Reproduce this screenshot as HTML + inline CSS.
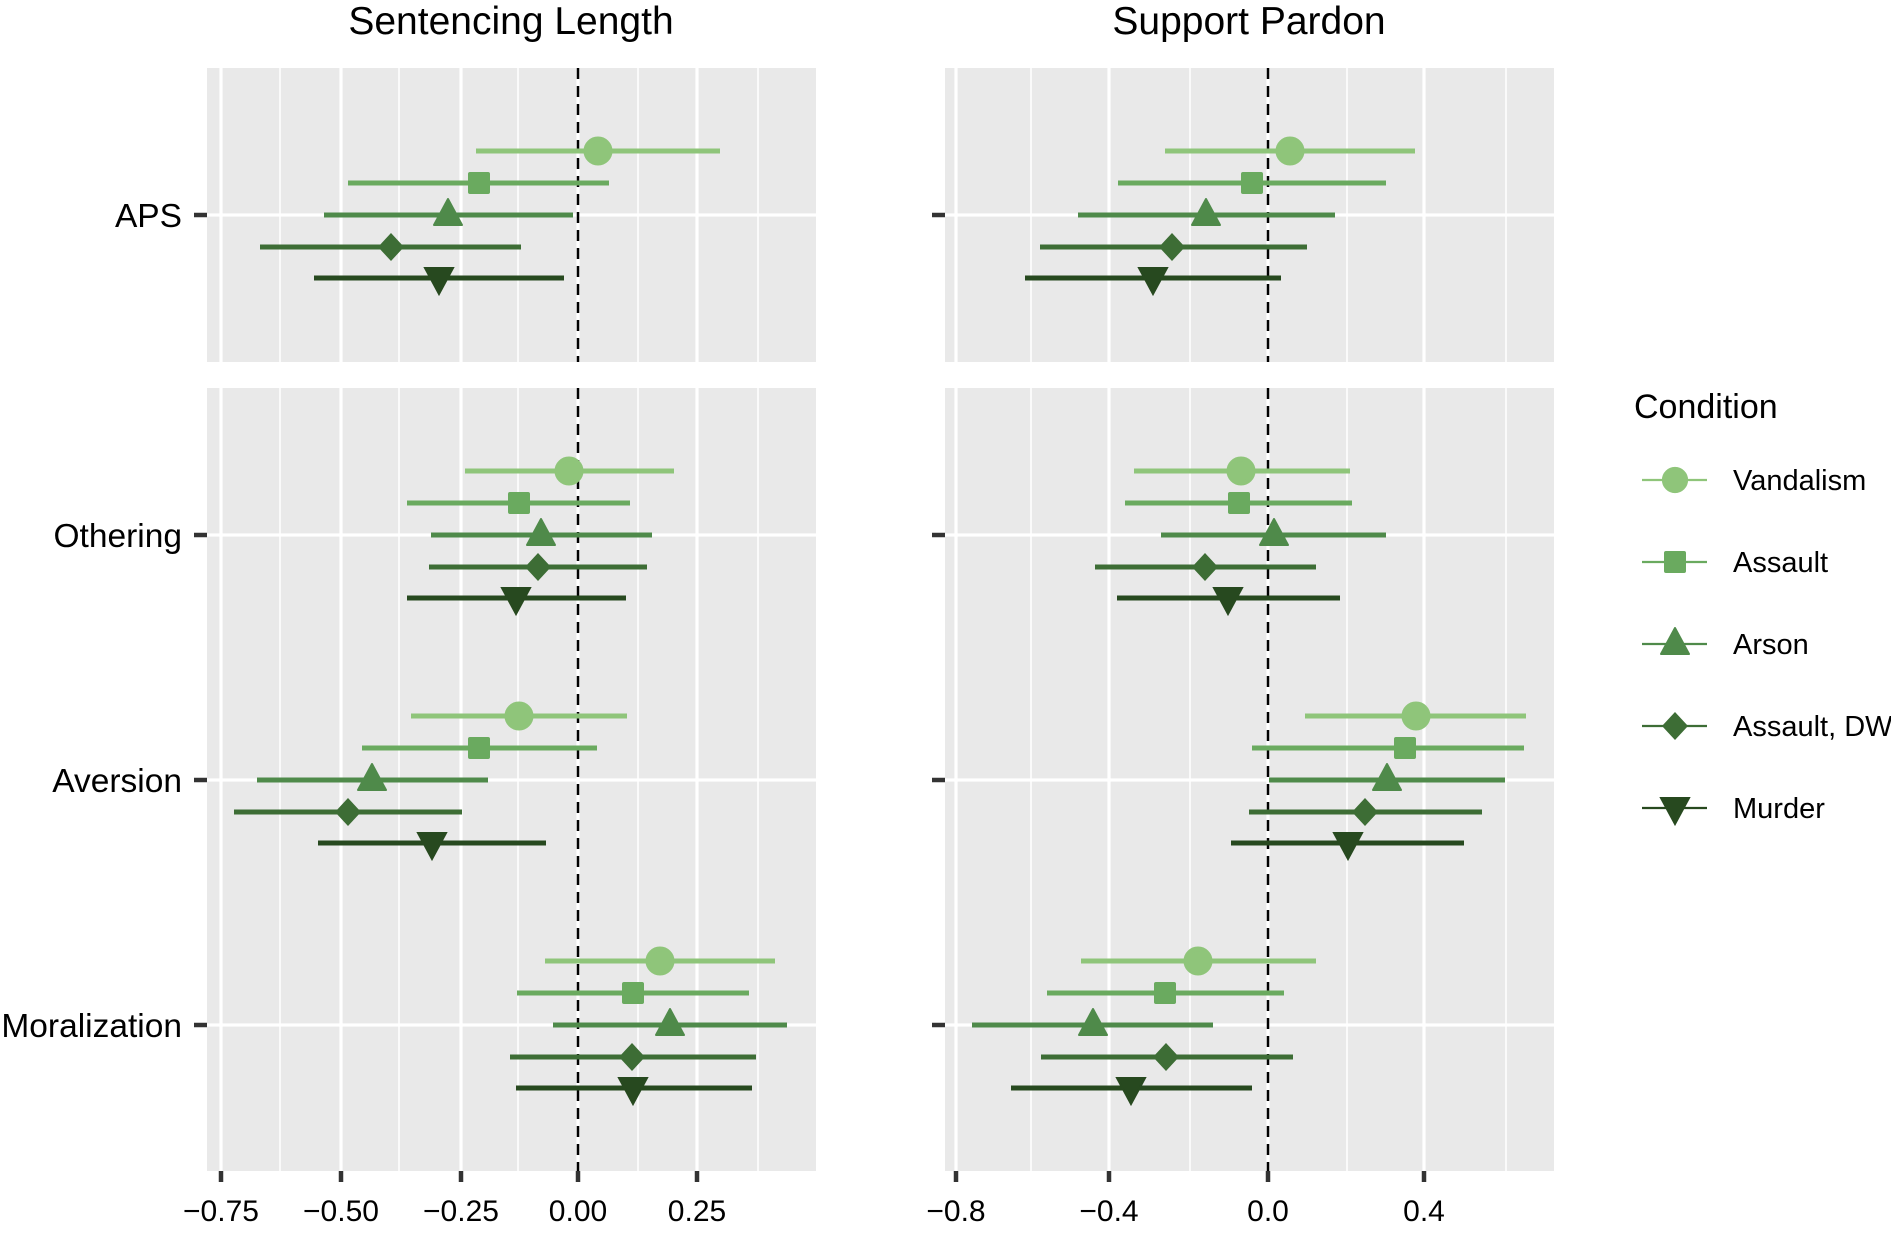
<!DOCTYPE html>
<html><head><meta charset="utf-8"><style>
html,body{margin:0;padding:0;background:#fff}
svg{display:block}
text{font-family:"Liberation Sans",Arial,sans-serif;fill:#000}
</style></head><body>
<svg width="1891" height="1236" viewBox="0 0 1891 1236" xmlns="http://www.w3.org/2000/svg">
<defs>
<circle id="mV" r="12"/>
<rect id="mA" x="-11" y="-11" width="22" height="22" rx="2"/>
<polygon id="mR" points="0,-16 14,10 -14,10" stroke-linejoin="round"/>
<polygon id="mD" points="0,-14 13,0 0,14 -13,0"/>
<polygon id="mM" points="-14,-10 14,-10 0,16"/>
</defs>
<text x="511" y="34" font-size="39" text-anchor="middle">Sentencing Length</text>
<text x="1249" y="34" font-size="39" text-anchor="middle">Support Pardon</text>

<g fill="#e9e9e9">
<rect x="207" y="68" width="609" height="294"/>
<rect x="207" y="388" width="609" height="783"/>
<rect x="945" y="68" width="609" height="294"/>
<rect x="945" y="388" width="609" height="783"/>
</g>
<g stroke="#fff">
<g stroke-width="1.6">
<line x1="280" y1="68" x2="280" y2="362"/><line x1="399" y1="68" x2="399" y2="362"/><line x1="518" y1="68" x2="518" y2="362"/><line x1="638" y1="68" x2="638" y2="362"/><line x1="758" y1="68" x2="758" y2="362"/>
<line x1="280" y1="388" x2="280" y2="1171"/><line x1="399" y1="388" x2="399" y2="1171"/><line x1="518" y1="388" x2="518" y2="1171"/><line x1="638" y1="388" x2="638" y2="1171"/><line x1="758" y1="388" x2="758" y2="1171"/>
<line x1="1031" y1="68" x2="1031" y2="362"/><line x1="1190" y1="68" x2="1190" y2="362"/><line x1="1347" y1="68" x2="1347" y2="362"/><line x1="1506" y1="68" x2="1506" y2="362"/>
<line x1="1031" y1="388" x2="1031" y2="1171"/><line x1="1190" y1="388" x2="1190" y2="1171"/><line x1="1347" y1="388" x2="1347" y2="1171"/><line x1="1506" y1="388" x2="1506" y2="1171"/>
</g>
<g stroke-width="3.2">
<line x1="221" y1="68" x2="221" y2="362"/><line x1="341" y1="68" x2="341" y2="362"/><line x1="461" y1="68" x2="461" y2="362"/><line x1="578" y1="68" x2="578" y2="362"/><line x1="697" y1="68" x2="697" y2="362"/>
<line x1="221" y1="388" x2="221" y2="1171"/><line x1="341" y1="388" x2="341" y2="1171"/><line x1="461" y1="388" x2="461" y2="1171"/><line x1="578" y1="388" x2="578" y2="1171"/><line x1="697" y1="388" x2="697" y2="1171"/>
<line x1="956" y1="68" x2="956" y2="362"/><line x1="1109" y1="68" x2="1109" y2="362"/><line x1="1268" y1="68" x2="1268" y2="362"/><line x1="1424" y1="68" x2="1424" y2="362"/>
<line x1="956" y1="388" x2="956" y2="1171"/><line x1="1109" y1="388" x2="1109" y2="1171"/><line x1="1268" y1="388" x2="1268" y2="1171"/><line x1="1424" y1="388" x2="1424" y2="1171"/>
<line x1="207" y1="215" x2="816" y2="215"/><line x1="207" y1="535" x2="816" y2="535"/><line x1="207" y1="780" x2="816" y2="780"/><line x1="207" y1="1025" x2="816" y2="1025"/>
<line x1="945" y1="215" x2="1554" y2="215"/><line x1="945" y1="535" x2="1554" y2="535"/><line x1="945" y1="780" x2="1554" y2="780"/><line x1="945" y1="1025" x2="1554" y2="1025"/>
</g>
</g>
<g stroke="#000" stroke-width="2.5" stroke-dasharray="11,7">
<line x1="578" y1="68" x2="578" y2="362"/><line x1="578" y1="388" x2="578" y2="1171"/>
<line x1="1268" y1="68" x2="1268" y2="362"/><line x1="1268" y1="388" x2="1268" y2="1171"/>
</g>

<g stroke-width="5">
<g stroke="#8fc57a" fill="#8fc57a"><line x1="476" y1="151" x2="720" y2="151"/><use href="#mV" x="598" y="151"/></g>
<g stroke="#6aaa5f" fill="#6aaa5f"><line x1="348" y1="183" x2="609" y2="183"/><use href="#mA" x="479" y="183" stroke="none"/></g>
<g stroke="#4f8a4a" fill="#4f8a4a"><line x1="324" y1="215" x2="573" y2="215"/><use href="#mR" x="448" y="215" stroke-width="2"/></g>
<g stroke="#3d6d35" fill="#3d6d35"><line x1="260" y1="247" x2="521" y2="247"/><use href="#mD" x="391" y="247" stroke="none"/></g>
<g stroke="#27491f" fill="#27491f"><line x1="314" y1="278" x2="564" y2="278"/><use href="#mM" x="439" y="278" stroke-width="2"/></g>
<g stroke="#8fc57a" fill="#8fc57a"><line x1="465" y1="471" x2="674" y2="471"/><use href="#mV" x="569" y="471"/></g>
<g stroke="#6aaa5f" fill="#6aaa5f"><line x1="407" y1="503" x2="630" y2="503"/><use href="#mA" x="519" y="503" stroke="none"/></g>
<g stroke="#4f8a4a" fill="#4f8a4a"><line x1="431" y1="535" x2="652" y2="535"/><use href="#mR" x="541" y="535" stroke-width="2"/></g>
<g stroke="#3d6d35" fill="#3d6d35"><line x1="429" y1="567" x2="647" y2="567"/><use href="#mD" x="538" y="567" stroke="none"/></g>
<g stroke="#27491f" fill="#27491f"><line x1="407" y1="598" x2="626" y2="598"/><use href="#mM" x="516" y="598" stroke-width="2"/></g>
<g stroke="#8fc57a" fill="#8fc57a"><line x1="411" y1="716" x2="627" y2="716"/><use href="#mV" x="519" y="716"/></g>
<g stroke="#6aaa5f" fill="#6aaa5f"><line x1="362" y1="748" x2="597" y2="748"/><use href="#mA" x="479" y="748" stroke="none"/></g>
<g stroke="#4f8a4a" fill="#4f8a4a"><line x1="257" y1="780" x2="488" y2="780"/><use href="#mR" x="372" y="780" stroke-width="2"/></g>
<g stroke="#3d6d35" fill="#3d6d35"><line x1="234" y1="812" x2="462" y2="812"/><use href="#mD" x="348" y="812" stroke="none"/></g>
<g stroke="#27491f" fill="#27491f"><line x1="318" y1="843" x2="546" y2="843"/><use href="#mM" x="432" y="843" stroke-width="2"/></g>
<g stroke="#8fc57a" fill="#8fc57a"><line x1="545" y1="961" x2="775" y2="961"/><use href="#mV" x="660" y="961"/></g>
<g stroke="#6aaa5f" fill="#6aaa5f"><line x1="517" y1="993" x2="749" y2="993"/><use href="#mA" x="633" y="993" stroke="none"/></g>
<g stroke="#4f8a4a" fill="#4f8a4a"><line x1="553" y1="1025" x2="787" y2="1025"/><use href="#mR" x="670" y="1025" stroke-width="2"/></g>
<g stroke="#3d6d35" fill="#3d6d35"><line x1="510" y1="1057" x2="756" y2="1057"/><use href="#mD" x="632" y="1057" stroke="none"/></g>
<g stroke="#27491f" fill="#27491f"><line x1="516" y1="1088" x2="752" y2="1088"/><use href="#mM" x="633" y="1088" stroke-width="2"/></g>

<g stroke="#8fc57a" fill="#8fc57a"><line x1="1165" y1="151" x2="1415" y2="151"/><use href="#mV" x="1290" y="151"/></g>
<g stroke="#6aaa5f" fill="#6aaa5f"><line x1="1118" y1="183" x2="1386" y2="183"/><use href="#mA" x="1252" y="183" stroke="none"/></g>
<g stroke="#4f8a4a" fill="#4f8a4a"><line x1="1078" y1="215" x2="1335" y2="215"/><use href="#mR" x="1206" y="215" stroke-width="2"/></g>
<g stroke="#3d6d35" fill="#3d6d35"><line x1="1040" y1="247" x2="1307" y2="247"/><use href="#mD" x="1172" y="247" stroke="none"/></g>
<g stroke="#27491f" fill="#27491f"><line x1="1025" y1="278" x2="1281" y2="278"/><use href="#mM" x="1153" y="278" stroke-width="2"/></g>
<g stroke="#8fc57a" fill="#8fc57a"><line x1="1134" y1="471" x2="1350" y2="471"/><use href="#mV" x="1241" y="471"/></g>
<g stroke="#6aaa5f" fill="#6aaa5f"><line x1="1125" y1="503" x2="1352" y2="503"/><use href="#mA" x="1239" y="503" stroke="none"/></g>
<g stroke="#4f8a4a" fill="#4f8a4a"><line x1="1161" y1="535" x2="1386" y2="535"/><use href="#mR" x="1274" y="535" stroke-width="2"/></g>
<g stroke="#3d6d35" fill="#3d6d35"><line x1="1095" y1="567" x2="1316" y2="567"/><use href="#mD" x="1205" y="567" stroke="none"/></g>
<g stroke="#27491f" fill="#27491f"><line x1="1117" y1="598" x2="1340" y2="598"/><use href="#mM" x="1228" y="598" stroke-width="2"/></g>
<g stroke="#8fc57a" fill="#8fc57a"><line x1="1305" y1="716" x2="1526" y2="716"/><use href="#mV" x="1416" y="716"/></g>
<g stroke="#6aaa5f" fill="#6aaa5f"><line x1="1252" y1="748" x2="1524" y2="748"/><use href="#mA" x="1405" y="748" stroke="none"/></g>
<g stroke="#4f8a4a" fill="#4f8a4a"><line x1="1269" y1="780" x2="1505" y2="780"/><use href="#mR" x="1387" y="780" stroke-width="2"/></g>
<g stroke="#3d6d35" fill="#3d6d35"><line x1="1249" y1="812" x2="1482" y2="812"/><use href="#mD" x="1365" y="812" stroke="none"/></g>
<g stroke="#27491f" fill="#27491f"><line x1="1231" y1="843" x2="1464" y2="843"/><use href="#mM" x="1348" y="843" stroke-width="2"/></g>
<g stroke="#8fc57a" fill="#8fc57a"><line x1="1081" y1="961" x2="1316" y2="961"/><use href="#mV" x="1198" y="961"/></g>
<g stroke="#6aaa5f" fill="#6aaa5f"><line x1="1047" y1="993" x2="1284" y2="993"/><use href="#mA" x="1165" y="993" stroke="none"/></g>
<g stroke="#4f8a4a" fill="#4f8a4a"><line x1="972" y1="1025" x2="1213" y2="1025"/><use href="#mR" x="1093" y="1025" stroke-width="2"/></g>
<g stroke="#3d6d35" fill="#3d6d35"><line x1="1041" y1="1057" x2="1293" y2="1057"/><use href="#mD" x="1166" y="1057" stroke="none"/></g>
<g stroke="#27491f" fill="#27491f"><line x1="1011" y1="1088" x2="1252" y2="1088"/><use href="#mM" x="1131" y="1088" stroke-width="2"/></g>
</g>

<g stroke="#333" stroke-width="4.5">
<line x1="194" y1="215" x2="207" y2="215"/><line x1="194" y1="535" x2="207" y2="535"/><line x1="194" y1="780" x2="207" y2="780"/><line x1="194" y1="1025" x2="207" y2="1025"/>
<line x1="932" y1="215" x2="945" y2="215"/><line x1="932" y1="535" x2="945" y2="535"/><line x1="932" y1="780" x2="945" y2="780"/><line x1="932" y1="1025" x2="945" y2="1025"/>
<line x1="221" y1="1171" x2="221" y2="1182"/><line x1="341" y1="1171" x2="341" y2="1182"/><line x1="461" y1="1171" x2="461" y2="1182"/><line x1="578" y1="1171" x2="578" y2="1182"/><line x1="697" y1="1171" x2="697" y2="1182"/>
<line x1="956" y1="1171" x2="956" y2="1182"/><line x1="1109" y1="1171" x2="1109" y2="1182"/><line x1="1268" y1="1171" x2="1268" y2="1182"/><line x1="1424" y1="1171" x2="1424" y2="1182"/>
</g>
<g font-size="33.5" text-anchor="end">
<text x="182" y="227">APS</text>
<text x="182" y="547">Othering</text>
<text x="182" y="792">Aversion</text>
<text x="182" y="1037">Moralization</text>
</g>
<g font-size="30" text-anchor="middle" fill="#111">
<text x="221" y="1221">−0.75</text><text x="341" y="1221">−0.50</text><text x="461" y="1221">−0.25</text><text x="578" y="1221">0.00</text><text x="697" y="1221">0.25</text>
<text x="956" y="1221">−0.8</text><text x="1109" y="1221">−0.4</text><text x="1268" y="1221">0.0</text><text x="1424" y="1221">0.4</text>
</g>

<text x="1634" y="418" font-size="34">Condition</text>
<g stroke-width="2.2">
<g stroke="#8fc57a" fill="#8fc57a"><line x1="1642" y1="480" x2="1707" y2="480"/><use href="#mV" x="1675" y="480"/></g>
<g stroke="#6aaa5f" fill="#6aaa5f"><line x1="1642" y1="562" x2="1707" y2="562"/><use href="#mA" x="1675" y="562" stroke="none"/></g>
<g stroke="#4f8a4a" fill="#4f8a4a"><line x1="1642" y1="644" x2="1707" y2="644"/><use href="#mR" x="1675" y="644" stroke-width="2"/></g>
<g stroke="#3d6d35" fill="#3d6d35"><line x1="1642" y1="726" x2="1707" y2="726"/><use href="#mD" x="1675" y="726" stroke="none"/></g>
<g stroke="#27491f" fill="#27491f"><line x1="1642" y1="808" x2="1707" y2="808"/><use href="#mM" x="1675" y="808" stroke-width="2"/></g>
</g>
<g font-size="29">
<text x="1733" y="490">Vandalism</text>
<text x="1733" y="572">Assault</text>
<text x="1733" y="654">Arson</text>
<text x="1733" y="736">Assault, DW</text>
<text x="1733" y="818">Murder</text>
</g>
</svg>
</body></html>
